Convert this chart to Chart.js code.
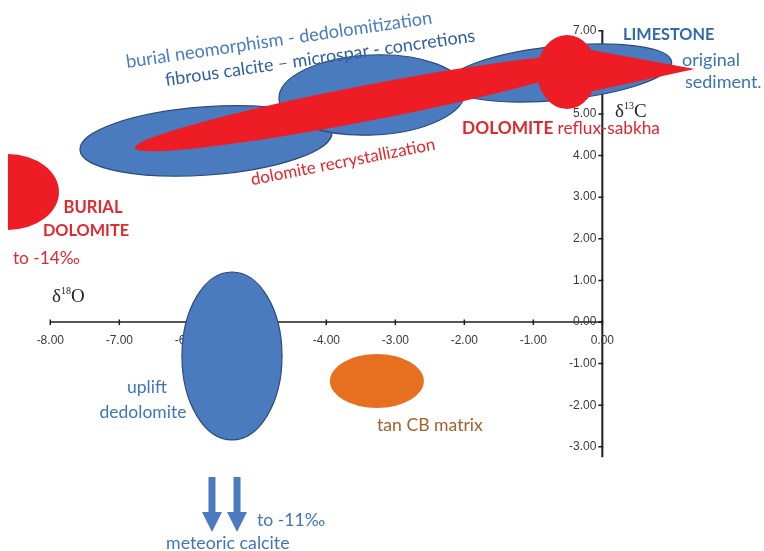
<!DOCTYPE html>
<html>
<head>
<meta charset="utf-8">
<script src="https://cdn.jsdelivr.net/npm/chart.js@4.4.1/dist/chart.umd.min.js"></script>
<style>
  html, body { margin: 0; padding: 0; background: #ffffff; }
  canvas { display: block; }
</style>
</head>
<body>
<canvas id="chart" width="764" height="551"></canvas>
<script>
// δ18O (x) and δ13C (y) axes, per mil
const xTicks = [-8, -7, -6, -5, -4, -3, -2, -1, 0];
const yTicks = [-3, -2, -1, 0, 1, 2, 3, 4, 5, 6, 7];
const xAxisSpan = [-8, 0];
const yAxisSpan = [-3.25, 7];

// Elongated fields along a major axis: [x1, y1, x2, y2, half-width in δ13C units]
const burialNeomorphismField = [-7.570, 4.135, -3.917, 4.567, 0.82];
const microsparField = [-4.686, 5.361, -1.990, 5.553, 0.962];
const limestoneField = [-2.236, 5.721, 1.005, 6.250, 0.649];
const dolomiteRecrystField = [-6.775, 4.183, -0.033, 6.346, 0.43];
const sabkhaDolomiteField = [-0.946, 6.010, -0.077, 6.010, 0.889];
// sabkha dolomite tail reaching toward the original sediment value
const sabkhaTail = [[-0.396, 6.611], [1.339, 6.082], [-0.396, 5.457]];
// Axis-aligned fields: [cx, cy, rx, ry]
const burialDolomiteField = [-8.613, 3.125, 0.739, 0.913];
const upliftDedolomiteField = [-5.367, -0.817, 0.725, 2.019];
const tanMatrixField = [-3.267, -1.418, 0.681, 0.649];
// Meteoric calcite arrows: x positions, [y start, y end]
const meteoricArrowX = [-5.657, -5.294];
const meteoricArrowY = [-3.726, -5.048];

const BLUE = '#4a7bbf';
const BLUE_EDGE = '#2b4b78';
const RED = '#ee1d25';
const ORANGE = '#e6701f';
const SANS = 'Lato, "Open Sans", sans-serif';
const SERIF = '"Liberation Serif", "DejaVu Serif", serif';

// Text annotations, anchored in data coordinates
const notes = [
  { t: 'burial neomorphism - dedolomitization', x: -4.686, y: 6.779, rot: -8.3, size: 18.2, color: '#4a7dc0', align: 'center' },
  { t: 'fibrous calcite \u2013 microspar - concretions', x: -4.091, y: 6.346, rot: -8.2, size: 17.9, color: '#2f609f', align: 'center' },
  { t: 'dolomite recrystallization', x: -3.758, y: 3.846, rot: -11, size: 17, color: '#e2262c', align: 'center' },
  { t: 'LIMESTONE', x: 0.300, y: 6.899, size: 16.3, bold: true, color: '#2f6aad', align: 'left' },
  { t: 'original', x: 1.154, y: 6.298, size: 18, color: '#3a74b8', align: 'left' },
  { t: 'sediment.', x: 1.198, y: 5.769, size: 18, color: '#3a74b8', align: 'left' },
  { t: 'BURIAL', x: -7.381, y: 2.740, size: 16.6, bold: true, color: '#de2a30', align: 'center' },
  { t: 'DOLOMITE', x: -7.483, y: 2.188, size: 16.3, bold: true, color: '#de2a30', align: 'center' },
  { t: 'to -14\u2030', x: -8.541, y: 1.538, size: 17.3, color: '#de2a30', align: 'left' },
  { t: 'uplift', x: -6.599, y: -1.5625, size: 17.5, color: '#3f76bb', align: 'center' },
  { t: 'dedolomite', x: -6.657, y: -2.163, size: 17.5, color: '#3f76bb', align: 'center' },
  { t: 'tan CB matrix', x: -3.265, y: -2.476, size: 17.6, color: '#a5612b', align: 'left' },
  { t: 'to -11\u2030', x: -5.005, y: -4.760, size: 17.6, color: '#3f76bb', align: 'left' },
  { t: 'meteoric calcite', x: -6.323, y: -5.313, size: 17.8, color: '#3f76bb', align: 'left' }
];

function drawSchematic(chart) {
  const ctx = chart.ctx;
  const sx = chart.scales.x, sy = chart.scales.y;
  const X = v => sx.getPixelForValue(v);
  const Y = v => sy.getPixelForValue(v);
  const dx = v => Math.abs(X(v) - X(0));
  const dy = v => Math.abs(Y(v) - Y(0));

  ctx.save();

  // ---- axes crossing at the origin ----
  ctx.strokeStyle = '#1e1e1e';
  ctx.lineWidth = 1.5;
  ctx.beginPath();
  ctx.moveTo(X(xAxisSpan[0]), Y(0));
  ctx.lineTo(X(xAxisSpan[1]), Y(0));
  xTicks.forEach(v => { ctx.moveTo(X(v), Y(0) - 2.5); ctx.lineTo(X(v), Y(0) + 3); });
  ctx.stroke();
  ctx.lineWidth = 2;
  ctx.beginPath();
  ctx.moveTo(X(0), Y(yAxisSpan[1]));
  ctx.lineTo(X(0), Y(yAxisSpan[0]));
  ctx.stroke();
  ctx.lineWidth = 1.5;
  ctx.beginPath();
  yTicks.forEach(v => { ctx.moveTo(X(0) - 4, Y(v)); ctx.lineTo(X(0) + 1, Y(v)); });
  ctx.stroke();

  ctx.fillStyle = '#3a3a3a';
  ctx.font = '12px "Liberation Sans", Arial, sans-serif';
  ctx.textBaseline = 'middle';
  ctx.textAlign = 'center';
  xTicks.forEach(v => ctx.fillText(v.toFixed(2), X(v), Y(0) + 19));
  ctx.textAlign = 'right';
  yTicks.forEach(v => ctx.fillText(v.toFixed(2), X(0) - 6, Y(v)));

  // ---- fields ----
  function trend(f, fill, edge) {
    const ax = X(f[0]), ay = Y(f[1]), bx = X(f[2]), by = Y(f[3]);
    ctx.beginPath();
    ctx.ellipse((ax + bx) / 2, (ay + by) / 2, Math.hypot(bx - ax, by - ay) / 2, dy(f[4]),
      Math.atan2(by - ay, bx - ax), 0, Math.PI * 2);
    ctx.fillStyle = fill;
    ctx.fill();
    if (edge) { ctx.strokeStyle = edge; ctx.lineWidth = 1.2; ctx.stroke(); }
  }
  function oval(f, fill, edge, start, end) {
    ctx.beginPath();
    ctx.ellipse(X(f[0]), Y(f[1]), dx(f[2]), dy(f[3]), 0, start ?? 0, end ?? Math.PI * 2);
    ctx.closePath();
    ctx.fillStyle = fill;
    ctx.fill();
    if (edge) { ctx.strokeStyle = edge; ctx.lineWidth = 1.2; ctx.stroke(); }
  }

  trend(burialNeomorphismField, BLUE, BLUE_EDGE);
  trend(microsparField, BLUE, BLUE_EDGE);
  trend(limestoneField, BLUE, BLUE_EDGE);
  trend(dolomiteRecrystField, RED);
  trend(sabkhaDolomiteField, RED);
  ctx.beginPath();
  sabkhaTail.forEach((p, i) => i ? ctx.lineTo(X(p[0]), Y(p[1])) : ctx.moveTo(X(p[0]), Y(p[1])));
  ctx.closePath();
  ctx.fillStyle = RED;
  ctx.fill();

  oval(burialDolomiteField, RED, null, -Math.PI / 2, Math.PI / 2);
  oval(upliftDedolomiteField, BLUE, BLUE_EDGE);
  oval(tanMatrixField, ORANGE);

  // meteoric calcite arrows
  ctx.fillStyle = BLUE;
  meteoricArrowX.forEach(v => {
    const x = X(v), y0 = Y(meteoricArrowY[0]), y1 = Y(meteoricArrowY[1]);
    const head = 20, shaft = 3.5, wing = 10;
    ctx.beginPath();
    ctx.moveTo(x - shaft, y0);
    ctx.lineTo(x + shaft, y0);
    ctx.lineTo(x + shaft, y1 - head);
    ctx.lineTo(x + wing, y1 - head);
    ctx.lineTo(x, y1);
    ctx.lineTo(x - wing, y1 - head);
    ctx.lineTo(x - shaft, y1 - head);
    ctx.closePath();
    ctx.fill();
  });

  // ---- text ----
  ctx.textBaseline = 'middle';
  notes.forEach(n => {
    ctx.save();
    ctx.translate(X(n.x), Y(n.y));
    if (n.rot) ctx.rotate(n.rot * Math.PI / 180);
    ctx.font = (n.bold ? 'bold ' : '') + n.size + 'px ' + SANS;
    ctx.fillStyle = n.color;
    ctx.textAlign = n.align;
    ctx.fillText(n.t, 0, 0);
    ctx.restore();
  });

  // DOLOMITE reflux-sabkha
  ctx.textAlign = 'left';
  let lx = X(-2.033);
  const ly = Y(4.663);
  ctx.fillStyle = '#e2262c';
  ctx.font = 'bold 17.3px ' + SANS;
  ctx.fillText('DOLOMITE', lx, ly);
  lx += ctx.measureText('DOLOMITE ').width;
  ctx.font = '17.3px ' + SANS;
  ctx.fillText('reflux-sabkha', lx, ly);

  // isotope axis titles with superscript mass numbers
  function isotope(mass, elem, x, y) {
    let cx = X(x);
    const cy = Y(y);
    ctx.fillStyle = '#222222';
    ctx.textAlign = 'left';
    ctx.font = '19px ' + SERIF;
    ctx.fillText('\u03b4', cx, cy);
    cx += ctx.measureText('\u03b4').width;
    ctx.font = '10px ' + SERIF;
    ctx.fillText(mass, cx, cy - 6);
    cx += ctx.measureText(mass).width;
    ctx.font = '19px ' + SERIF;
    ctx.fillText(elem, cx, cy);
  }
  isotope('13', 'C', 0.184, 5.048);
  isotope('18', 'O', -7.975, 0.601);

  ctx.restore();
}

new Chart(document.getElementById('chart'), {
  type: 'scatter',
  data: { datasets: [] },
  options: {
    responsive: false,
    animation: false,
    devicePixelRatio: 1,
    layout: { padding: 0 },
    plugins: { legend: { display: false }, tooltip: { enabled: false } },
    scales: {
      x: { type: 'linear', display: false, min: -8.729, max: 2.343 },
      y: { type: 'linear', display: false, min: -5.505, max: 7.740 }
    }
  },
  plugins: [{ id: 'isotopeSchematic', afterDraw: drawSchematic }]
});
</script>
</body>
</html>
